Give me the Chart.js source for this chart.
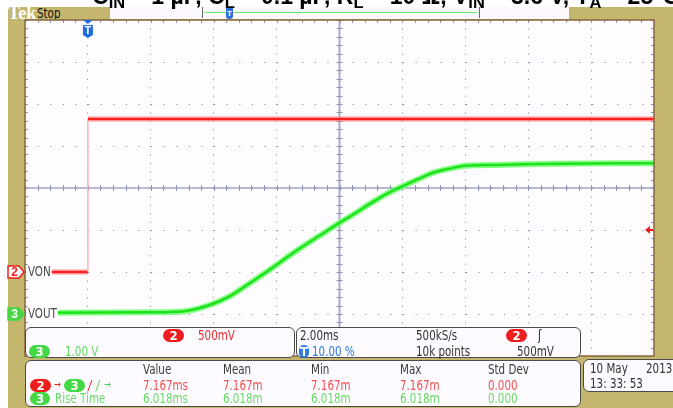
<!DOCTYPE html>
<html>
<head>
<meta charset="utf-8">
<script src="https://cdn.jsdelivr.net/npm/chart.js@4.4.1/dist/chart.umd.min.js"></script>
<style>
  html, body { margin: 0; padding: 0; }
  body { width: 673px; height: 408px; overflow: hidden; position: relative; background: #fff;
         font-family: "Liberation Sans Narrow", "DejaVu Sans Condensed", "Liberation Sans", sans-serif; }
  #screen { position: absolute; left: 8px; top: 7px; width: 665px; height: 401px; background: #c5b66d; }
  #wrap { position: absolute; left: 0; top: 0; width: 673px; height: 408px; }
  #title { position: absolute; left: 92px; top: -15px; font: bold 23px "Liberation Sans", Arial, sans-serif;
           line-height: 22px; white-space: nowrap; color: #000; z-index: 5; }
  #title sub { font-size: 16.5px; vertical-align: baseline; position: relative; top: 4px; }
  .box { position: absolute; background: #fdfbff; border: 1.5px solid #4a4a4a; border-radius: 6px; box-sizing: border-box; }
  .t { position: absolute; font-size: 14px; line-height: 14px; white-space: nowrap; color: #333;
       transform: scaleX(0.82); transform-origin: 0 50%; }
  .pill { position: absolute; height: 13px; border-radius: 7px; color: #fff; font-weight: bold;
          font-size: 13px; line-height: 13px; text-align: center; }
</style>
</head>
<body>
<div id="screen"></div>
<div id="title">C<sub>IN</sub> = 1 µF, C<sub>L</sub> = 0.1 µF, R<sub>L</sub> = 10 Ω, V<sub>IN</sub> = 3.6 V, T<sub>A</sub> = 25°C</div>

<!-- top status bar -->
<div class="t" style="left:8px;top:6px;font:bold 18px 'Liberation Serif',serif;color:#fff;line-height:14px;transform:none">Tek</div>
<div class="t" style="left:37px;top:6px;color:#111">Stop</div>
<div style="position:absolute;left:110px;top:7px;width:459px;height:12px;background:#fcf8fd"></div>
<div style="position:absolute;left:202px;top:7px;width:276px;height:11px;border-left:1px solid #666;border-right:1px solid #666"></div>
<div style="position:absolute;left:204px;top:12px;width:273px;height:1px;background:#5ef05e"></div>
<div style="position:absolute;left:226px;top:8px;width:7px;height:11px;background:#2a6fe0;border-radius:0 0 3px 3px;color:#fff;font:bold 8px sans-serif;text-align:center;line-height:12px">T</div>

<div id="wrap"><canvas id="scope"></canvas></div>

<!-- readout boxes -->
<div class="box" style="left:25px;top:327px;width:270px;height:31px"></div>
<div class="box" style="left:296px;top:327px;width:285px;height:31px"></div>
<div class="box" style="left:25px;top:360px;width:556px;height:47px"></div>
<div class="box" style="left:583px;top:359px;width:100px;height:33px"></div>
<div id="readouts"></div>

<script>
// time in ms, volts per channel
const vonTime   = [-2, 0, 0, 18];
const vonVolts  = [0, 0, 1.82, 1.82];
const voutTime  = [-2, 2, 3, 3.5, 4, 4.5, 5, 5.5, 6, 6.5, 7, 7.5, 8, 8.5, 9, 9.5, 10, 10.5, 11, 11.5, 12, 13, 15, 18];
const voutVolts = [0.03, 0.04, 0.06, 0.13, 0.25, 0.42, 0.66, 0.91, 1.17, 1.44, 1.69, 1.93, 2.17, 2.40, 2.64, 2.86,
                   3.04, 3.21, 3.37, 3.46, 3.53, 3.55, 3.58, 3.59];

// screen: 10 div x 2ms, 8 div; ch2 500mV/div, ch3 1V/div
const timeRange = [-2, 18];
const timePerDiv = 2;
const ch2Range = [-1, 3];
const ch3Range = [-1, 7];
const trigTime = 0;
const trigLevel = 0.5;

const measCols  = ['Value', 'Mean', 'Min', 'Max', 'Std Dev'];
const delayVals = ['7.167ms', '7.167m', '7.167m', '7.167m', '0.000'];
const riseVals  = ['6.018ms', '6.018m', '6.018m', '6.018m', '0.000'];

const RED = '#ee1c1c', GREEN = '#44d844';

// ---- readout text ----
const ro = document.getElementById('readouts');
function txt(x, cy, s, color, extra) {
  const d = document.createElement('div');
  d.className = 't';
  d.style.left = x + 'px';
  d.style.top = (cy - 7) + 'px';
  if (color) d.style.color = color;
  if (extra) d.style.cssText += extra;
  d.textContent = s;
  ro.appendChild(d);
}
function pill(x, cy, w, s, bg) {
  const d = document.createElement('div');
  d.className = 'pill';
  d.style.left = x + 'px';
  d.style.top = (cy - 6.5) + 'px';
  d.style.width = w + 'px';
  d.style.background = bg;
  d.textContent = s;
  ro.appendChild(d);
}
pill(163, 335, 21, '2', RED); txt(198, 335, '500mV', '#e83030');
pill(29, 351, 21, '3', GREEN); txt(65, 351, '1.00 V', '#5edc5e');
txt(300, 335, '2.00ms');
pill(299, 351, 10, 'T', '#2a78e0'); txt(312, 351, '10.00 %', '#2a78e0');
txt(416, 335, '500kS/s'); txt(416, 351, '10k points');
pill(506, 335, 21, '2', RED); txt(538, 335, 'ʃ', '#222'); txt(517, 351, '500mV');

const colX = [143, 223, 311, 400, 488];
measCols.forEach((s, i) => txt(colX[i], 369, s, '#3a3a3a'));
delayVals.forEach((s, i) => txt(colX[i], 385, s, '#f25050'));
riseVals.forEach((s, i) => txt(colX[i], 398, s, '#66dc66'));
pill(30, 385, 21, '2', RED); txt(54, 385, '→', RED, 'font-size:11px');
pill(64, 385, 21, '3', GREEN); txt(88, 385, '/', RED, 'font-style:italic');
txt(96, 385, '/', GREEN, 'font-style:italic'); txt(104, 385, '→', GREEN, 'font-size:11px');
pill(30, 398, 20, '3', GREEN); txt(55, 398, 'Rise Time', '#66dc66');
txt(590, 368, '10 May'); txt(646, 368, '2013'); txt(590, 383, '13: 33: 53');

// ---- scope decorations drawn from the scales ----
const scopeDecor = {
  id: 'scopeDecor',
  beforeDraw(chart) {
    const {ctx, chartArea: a} = chart;
    ctx.save();
    ctx.fillStyle = '#fefcff';
    ctx.fillRect(a.left, a.top, a.right - a.left, a.bottom - a.top);
    ctx.restore();
  },
  beforeDatasetsDraw(chart) {
    const {ctx, chartArea: a, scales: {x, y}} = chart;
    const cx = x.getPixelForValue((timeRange[0] + timeRange[1]) / 2);
    const cy = y.getPixelForValue((ch3Range[0] + ch3Range[1]) / 2);
    ctx.save();
    ctx.strokeStyle = 'rgba(140,146,186,0.75)';
    ctx.lineWidth = 2;
    ctx.beginPath(); ctx.moveTo(cx, a.top); ctx.lineTo(cx, a.bottom); ctx.stroke();
    ctx.strokeStyle = '#707aa2';
    ctx.lineWidth = 1.2;
    ctx.beginPath(); ctx.moveTo(a.left, cy); ctx.lineTo(a.right, cy); ctx.stroke();
    ctx.strokeStyle = '#8e95b6';
    ctx.lineWidth = 1;
    ctx.beginPath();
    for (let t = timeRange[0]; t <= timeRange[1] + 1e-6; t += timePerDiv / 5) {
      const px = Math.round(x.getPixelForValue(t)) + 0.5;
      ctx.moveTo(px, cy - 3); ctx.lineTo(px, cy + 3);
      ctx.moveTo(px, a.top); ctx.lineTo(px, a.top + 3);
    }
    for (let v = ch3Range[0]; v <= ch3Range[1] + 1e-6; v += 0.2) {
      const py = Math.round(y.getPixelForValue(v)) + 0.5;
      ctx.moveTo(cx - 3, py); ctx.lineTo(cx + 3, py);
      ctx.moveTo(a.left, py); ctx.lineTo(a.left + 3, py);
      ctx.moveTo(a.right - 3, py); ctx.lineTo(a.right, py);
    }
    ctx.stroke();
    ctx.restore();
  },
  afterDraw(chart) {
    const {ctx, chartArea: a, scales: {x, y, y2}} = chart;
    ctx.save();
    // frame
    ctx.strokeStyle = '#86683c';
    ctx.lineWidth = 1.5;
    ctx.strokeRect(a.left, a.top, a.right - a.left, a.bottom - a.top);

    // waveform labels
    ctx.font = '14px "Liberation Sans Narrow", "DejaVu Sans Condensed", sans-serif';
    ctx.textBaseline = 'middle';
    const g2 = y2.getPixelForValue(0), g3 = y.getPixelForValue(0);
    [['VON', g2], ['VOUT', g3]].forEach(([s, py]) => {
      const w = ctx.measureText(s).width * 0.82;
      ctx.fillStyle = '#fefcff';
      ctx.fillRect(a.left + 1, py - 7, w + 3, 14);
      ctx.fillStyle = '#4a4a4a';
      ctx.save();
      ctx.translate(a.left + 3, py);
      ctx.scale(0.82, 1);
      ctx.fillText(s, 0, 0);
      ctx.restore();
    });

    // channel ground markers
    function marker(py, label, col, filled) {
      ctx.beginPath();
      ctx.moveTo(8, py - 6); ctx.lineTo(19, py - 6); ctx.lineTo(24, py);
      ctx.lineTo(19, py + 6); ctx.lineTo(8, py + 6); ctx.closePath();
      ctx.fillStyle = filled ? col : '#fff';
      ctx.fill();
      ctx.strokeStyle = col; ctx.lineWidth = 1.5; ctx.stroke();
      ctx.fillStyle = filled ? '#fff' : col;
      ctx.font = 'bold 12px "Liberation Sans", sans-serif';
      ctx.textAlign = 'center';
      ctx.fillText(label, 14.5, py + 0.5);
      ctx.textAlign = 'left';
    }
    marker(g2, '2', RED, false);
    marker(g3, '3', GREEN, true);

    // trigger level arrow (right edge)
    const ty = y2.getPixelForValue(trigLevel);
    ctx.fillStyle = RED;
    ctx.beginPath(); ctx.moveTo(a.right - 9, ty); ctx.lineTo(a.right - 4, ty - 4); ctx.lineTo(a.right - 4, ty + 4); ctx.closePath(); ctx.fill();
    ctx.fillRect(a.right - 5, ty - 1, 4, 2);

    // trigger position marker (top)
    const tx = x.getPixelForValue(trigTime);
    ctx.fillStyle = '#1e6ee0';
    ctx.beginPath(); ctx.moveTo(tx - 5, a.top); ctx.lineTo(tx + 5, a.top); ctx.lineTo(tx, a.top + 4); ctx.closePath(); ctx.fill();
    ctx.beginPath();
    ctx.moveTo(tx - 5, a.top + 5); ctx.lineTo(tx + 5, a.top + 5); ctx.lineTo(tx + 5, a.top + 15);
    ctx.lineTo(tx, a.top + 18); ctx.lineTo(tx - 5, a.top + 15); ctx.closePath(); ctx.fill();
    ctx.fillStyle = '#fff';
    ctx.font = 'bold 11px "Liberation Sans", sans-serif';
    ctx.textAlign = 'center';
    ctx.fillText('T', tx, a.top + 11);
    ctx.restore();
  }
};

const pts = (xs, ys) => xs.map((t, i) => ({x: t, y: ys[i]}));
const isEdge = c => c.p0.parsed.x === c.p1.parsed.x;
const edgeSeg = {
  borderColor: c => isEdge(c) ? '#ffb4b4' : undefined,
  borderWidth: c => isEdge(c) ? 1 : undefined
};

new Chart(document.getElementById('scope'), {
  type: 'line',
  data: {
    datasets: [
      { label: 'VON', data: pts(vonTime, vonVolts), yAxisID: 'y2', borderColor: '#ff1e1e', borderWidth: 2,
        pointRadius: 0, segment: edgeSeg, order: 1 },
      { label: 'VOUT', data: pts(voutTime, voutVolts), yAxisID: 'y', borderColor: '#1ee01e', borderWidth: 2.5,
        pointRadius: 0, cubicInterpolationMode: 'monotone', order: 2 },
      { label: 'VON band', data: pts(vonTime, vonVolts), yAxisID: 'y2', borderColor: 'rgba(255,120,120,0.8)', borderWidth: 5,
        pointRadius: 0, segment: edgeSeg, order: 3 },
      { label: 'VOUT band', data: pts(voutTime, voutVolts), yAxisID: 'y', borderColor: 'rgba(110,255,110,0.85)', borderWidth: 6,
        pointRadius: 0, cubicInterpolationMode: 'monotone', order: 4 }
    ]
  },
  options: {
    responsive: true,
    maintainAspectRatio: false,
    animation: false,
    devicePixelRatio: 1,
    layout: { autoPadding: false, padding: { left: 25, top: 20, right: 19, bottom: 52 } },
    plugins: { legend: { display: false }, tooltip: { enabled: false } },
    scales: {
      x: { type: 'linear', min: timeRange[0], max: timeRange[1],
           ticks: { display: false, stepSize: timePerDiv },
           grid: { color: '#8e95b6', lineWidth: 1, drawTicks: false },
           border: { display: false, dash: [1.2, 7.2] } },
      y: { min: ch3Range[0], max: ch3Range[1],
           ticks: { display: false, stepSize: 1 },
           grid: { color: '#8e95b6', lineWidth: 1, drawTicks: false },
           border: { display: false, dash: [1.2, 11.4] } },
      y2: { display: false, min: ch2Range[0], max: ch2Range[1] }
    }
  },
  plugins: [scopeDecor]
});
</script>
</body>
</html>
